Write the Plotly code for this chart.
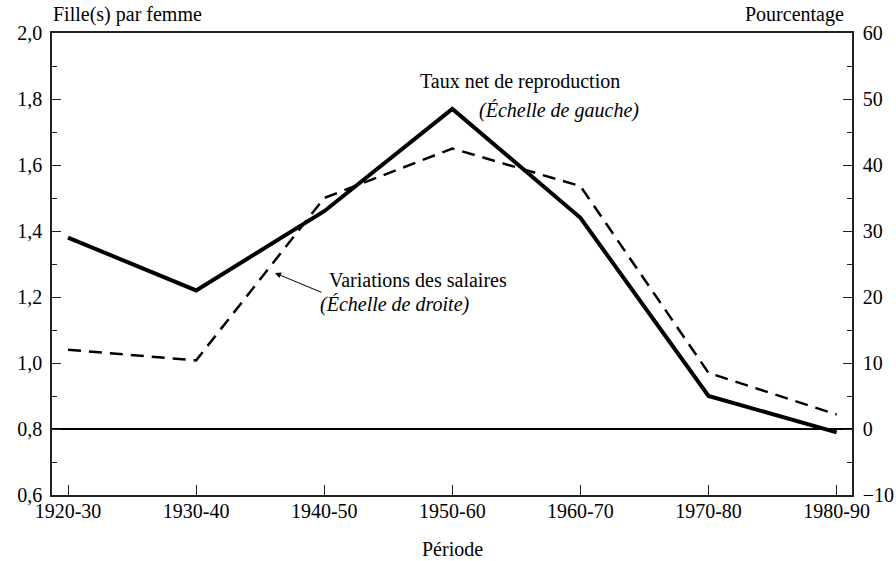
import plotly.graph_objects as go

periods = ["1920-30", "1930-40", "1940-50", "1950-60", "1960-70", "1970-80", "1980-90"]
taux_net = [1.38, 1.22, 1.46, 1.77, 1.44, 0.90, 0.79]          # left scale
variations_salaires = [12.0, 10.4, 35.0, 42.5, 36.8, 8.5, 2.2]  # right scale (%)

FONT = "Liberation Serif, Times New Roman, serif"
AX = "#222222"

fig = go.Figure()
fig.add_trace(go.Scatter(x=periods, y=variations_salaires, yaxis="y2", mode="lines",
                         line=dict(color="black", width=2.5, dash="13px,8px"),
                         showlegend=False, hoverinfo="skip"))
fig.add_trace(go.Scatter(x=periods, y=taux_net, yaxis="y", mode="lines",
                         line=dict(color="black", width=4),
                         showlegend=False, hoverinfo="skip"))

fig.update_layout(
    width=896, height=561,
    margin=dict(l=52, r=44, t=33, b=66, autoexpand=False),
    paper_bgcolor="white", plot_bgcolor="white",
    font=dict(family=FONT, size=20, color="black"),
    separators=", ",
    xaxis=dict(type="category", categoryorder="array", categoryarray=periods,
               range=[-0.125, 6.12], showgrid=False, zeroline=False, automargin=False,
               showline=True, linecolor=AX, linewidth=1.5, mirror=True,
               ticks="inside", ticklen=10, tickwidth=1.2, tickcolor=AX,
               ticklabelstandoff=-3,
               tickfont=dict(family=FONT, size=20, color="black")),
    yaxis=dict(range=[0.6, 2.0], tickvals=[0.6, 0.8, 1.0, 1.2, 1.4, 1.6, 1.8, 2.0],
               tickformat=".1f", showgrid=False, zeroline=False, automargin=False,
               showline=True, linecolor=AX, linewidth=1.5, mirror=True,
               ticks="inside", ticklen=9, tickwidth=1.2, tickcolor=AX,
               ticklabelstandoff=4,
               minor=dict(dtick=0.1, tick0=0.6, ticks="inside", ticklen=5, tickwidth=1.2, tickcolor=AX, showgrid=False),
               tickfont=dict(family=FONT, size=20, color="black")),
    yaxis2=dict(range=[-10, 60], overlaying="y", side="right", automargin=False,
                tickvals=[-10, 0, 10, 20, 30, 40, 50, 60],
                showgrid=False, zeroline=True, zerolinecolor="black", zerolinewidth=1.5,
                showline=True, linecolor=AX, linewidth=1.5,
                ticks="inside", ticklen=9, tickwidth=1.2, tickcolor=AX,
                ticklabelstandoff=5,
                minor=dict(dtick=5, tick0=-10, ticks="inside", ticklen=5, tickwidth=1.2, tickcolor=AX, showgrid=False),
                tickfont=dict(family=FONT, size=20, color="black")),
)

ann = [
    dict(text="Fille(s) par femme", x=-0.001, y=1.041, xanchor="left", yanchor="middle"),
    dict(text="Pourcentage", x=0.9925, y=1.041, xanchor="right", yanchor="middle"),
    dict(text="Période", x=0.5, y=-0.117, xanchor="center", yanchor="middle"),
    dict(text="Taux net de reproduction", x=0.4575, y=0.894, xanchor="left", yanchor="middle"),
    dict(text="<i>(Échelle de gauche)</i>", x=0.531, y=0.833, xanchor="left", yanchor="middle"),
    dict(text="Variations des salaires", x=0.34375, y=0.4654, xanchor="left", yanchor="middle"),
    dict(text="<i>(Échelle de droite)</i>", x=0.3325, y=0.413, xanchor="left", yanchor="middle"),
]
for a in ann:
    fig.add_annotation(xref="paper", yref="paper", showarrow=False,
                       font=dict(family=FONT, size=20, color="black"), **a)

fig.add_annotation(xref="paper", yref="paper", x=0.27875, y=0.4805, text="",
                   showarrow=True, axref="pixel", ayref="pixel", ax=48, ay=20,
                   arrowhead=2, arrowsize=1.2, arrowwidth=1, arrowcolor="black")

fig.write_html("out.html", config={"displayModeBar": False},
               post_script="document.body.style.margin='0px';")
